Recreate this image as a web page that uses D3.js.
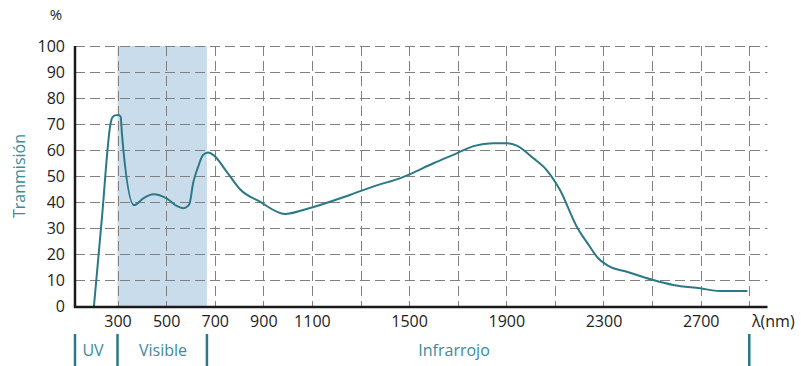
<!DOCTYPE html>
<html>
<head>
<meta charset="utf-8">
<script src="https://cdn.jsdelivr.net/npm/d3@7"></script>
<style>
  body { margin: 0; background: #fff; }
  svg { display: block; font-family: "Open Sans", sans-serif; }
</style>
</head>
<body>
<div class="chart"></div>
<script>
// DATA ------------------------------------
const wavelength = [203, 235, 272, 278, 290, 303, 313, 318, 368,
    406, 447, 502, 543, 571, 590, 597, 611, 632, 652,
    673, 694, 749, 804, 886, 989, 1078, 1256, 1370, 1462,
    1504, 1600, 1696, 1765, 1846, 1901, 1943, 2012, 2066, 2121,
    2190, 2244, 2272, 2320, 2396, 2505, 2587, 2697, 2779, 2892];
const transmission = [0, 33, 70.5, 72.4, 73.3, 73.5, 72.8, 66.5, 38.8,
    41.4, 43, 41.4, 38.5, 37.6, 38.5, 39.5, 47.2, 53.6, 58.1,
    59, 58.1, 51.7, 44.9, 40.1, 35.4, 37.3, 42.7, 46.5, 49.1,
    50.7, 54.9, 58.7, 61.5, 62.6, 62.6, 61.7, 56.8, 52.3, 44.6,
    30.5, 22.8, 19, 15.4, 13.2, 10, 8.1, 6.8, 5.8, 5.8];

const yTicks = [0, 10, 20, 30, 40, 50, 60, 70, 80, 90, 100];
const xGrid = [300, 500, 700, 900, 1100, 1300, 1500, 1700, 1900, 2100, 2300, 2500, 2700, 2900];
const xTicks = [300, 500, 700, 900, 1100, 1500, 1900, 2300, 2700];

const visibleBand = [300, 668];
const regionBounds = [125, 300, 668, 2900];
const regionNames = ["UV", "Visible", "Infrarrojo"];
const regionLabelAt = [199, 487, 1685];

// CHART INIT ------------------------------
const W = 801, H = 366;
const teal = "#2b7886", tealText = "#3b8b99";

const svg = d3.select(".chart").append("svg")
    .attr("width", W)
    .attr("height", H);

const x = d3.scaleLinear().domain([125, 2975]).range([75, 767.5]);
const y = d3.scaleLinear().domain([0, 100]).range([306, 46]);

// visible band
svg.append("rect")
    .attr("x", x(visibleBand[0]))
    .attr("y", y(100))
    .attr("width", x(visibleBand[1]) - x(visibleBand[0]))
    .attr("height", y(0) - y(100))
    .attr("fill", "#c9dcec");

// grid
svg.append("g").selectAll("line")
    .data(yTicks.filter(d => d > 0))
    .enter().append("line")
    .attr("x1", x(125)).attr("x2", x(2975))
    .attr("y1", d => Math.round(y(d)) + 0.5)
    .attr("y2", d => Math.round(y(d)) + 0.5)
    .attr("stroke", "#808080")
    .attr("stroke-dasharray", "10,5");

svg.append("g").selectAll("line")
    .data(xGrid)
    .enter().append("line")
    .attr("x1", d => Math.round(x(d)) + 0.5)
    .attr("x2", d => Math.round(x(d)) + 0.5)
    .attr("y1", y(100)).attr("y2", y(0))
    .attr("stroke", "#808080")
    .attr("stroke-dasharray", "10,5");

// curve
const line = d3.line()
    .x((d, i) => x(wavelength[i]))
    .y(d => y(d))
    .curve(d3.curveMonotoneX);

svg.append("path")
    .datum(transmission)
    .attr("d", line)
    .attr("fill", "none")
    .attr("stroke", teal)
    .attr("stroke-width", 2);

// axes
const yAxis = svg.append("g")
    .attr("transform", "translate(75,0)")
    .call(d3.axisLeft(y).tickValues(yTicks).tickFormat(d3.format("d")).tickSize(0).tickPadding(10));
yAxis.select(".domain").remove();
yAxis.selectAll("text").attr("font-size", 16).attr("fill", "#222").attr("font-family", "Open Sans");

const xAxis = svg.append("g")
    .attr("transform", "translate(0," + y(0) + ")")
    .call(d3.axisBottom(x).tickValues(xTicks).tickFormat(d3.format("d")).tickSize(0).tickPadding(10));
xAxis.select(".domain").remove();
xAxis.selectAll("text").attr("font-size", 16).attr("fill", "#222").attr("font-family", "Open Sans");

svg.append("line")
    .attr("x1", 75).attr("x2", 75)
    .attr("y1", y(100)).attr("y2", y(0) + 2)
    .attr("stroke", "#1a1a1a").attr("stroke-width", 2.5);
svg.append("line")
    .attr("x1", 74).attr("x2", x(2975))
    .attr("y1", y(0) + 1).attr("y2", y(0) + 1)
    .attr("stroke", "#1a1a1a").attr("stroke-width", 2.5);

// axis titles
svg.append("text")
    .attr("x", 56).attr("y", 20)
    .attr("text-anchor", "middle")
    .attr("font-size", 15).attr("fill", "#222")
    .text("%");

svg.append("text")
    .attr("transform", "translate(25,176) rotate(-90)")
    .attr("text-anchor", "middle")
    .attr("font-size", 16).attr("fill", tealText)
    .text("Tranmisión");

svg.append("text")
    .attr("x", 752).attr("y", 327)
    .attr("font-size", 16).attr("fill", "#222")
    .text("λ(nm)");

// regions
svg.append("g").selectAll("line")
    .data(regionBounds)
    .enter().append("line")
    .attr("x1", d => x(d)).attr("x2", d => x(d))
    .attr("y1", 334).attr("y2", H)
    .attr("stroke", teal).attr("stroke-width", 2.5);

svg.append("g").selectAll("text")
    .data(regionNames)
    .enter().append("text")
    .attr("x", (d, i) => x(regionLabelAt[i]))
    .attr("y", 356)
    .attr("text-anchor", "middle")
    .attr("font-size", 16).attr("fill", tealText)
    .text(d => d);
</script>
</body>
</html>
